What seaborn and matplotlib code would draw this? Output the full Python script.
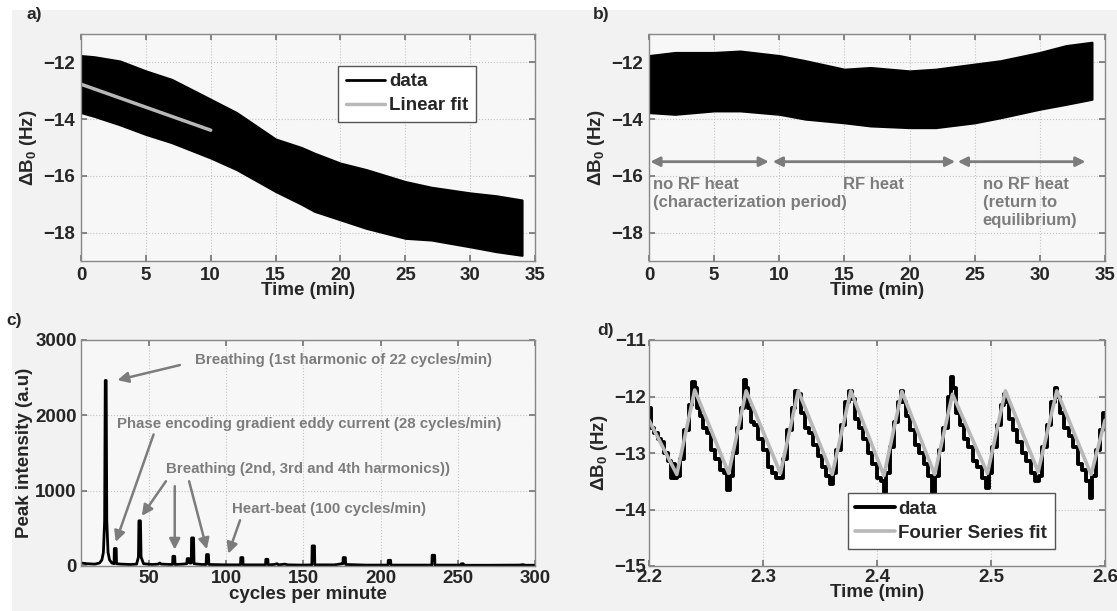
import numpy as np
import pandas as pd
import seaborn as sns
import matplotlib.pyplot as plt
from matplotlib.lines import Line2D
from matplotlib.patches import Rectangle

# ---- panel a: envelope of the B0 drift trace (time in min, Hz)
drift_t = [0, 1, 3, 5, 7, 8.5, 10, 12, 15, 17, 18, 20, 22, 25, 27, 30, 32, 34]
drift_hi = [-11.76, -11.8, -11.95, -12.3, -12.6, -12.95, -13.3, -13.77, -14.7,
            -15.0, -15.2, -15.55, -15.78, -16.2, -16.4, -16.6, -16.7, -16.85]
drift_lo = [-13.77, -13.9, -14.2, -14.54, -14.83, -15.1, -15.37, -15.78, -16.55,
            -17.0, -17.25, -17.55, -17.85, -18.2, -18.26, -18.5, -18.67, -18.8]
fit_t = [0, 10]
fit_v = [-12.77, -14.39]

# ---- panel b: envelope of the trace with RF heating
heat_t = [0, 2, 5, 7, 10, 12, 15, 17, 20, 22, 25, 27, 30, 32, 34]
heat_hi = [-11.76, -11.65, -11.65, -11.6, -11.76, -11.94, -12.24, -12.18, -12.3,
           -12.24, -12.06, -11.94, -11.65, -11.41, -11.29]
heat_lo = [-13.77, -13.83, -13.71, -13.71, -13.83, -14.0, -14.13, -14.24, -14.3,
           -14.3, -14.13, -13.95, -13.65, -13.48, -13.3]
periods = [(0.1, 9.2, "no RF heat\n(characterization period)", 0.33),
           (9.5, 23.5, "RF heat", 14.9),
           (23.7, 33.5, "no RF heat\n(return to\nequilibrium)", 25.6)]

# ---- panel c: spectrum points (cycles per minute, a.u.)
spectrum = [(6, 40), (10, 30), (15, 25), (18, 40), (19.5, 80), (20.5, 180), (21.3, 600),
            (21.7, 2463), (22.3, 2463), (22.7, 600), (23.5, 180), (24.5, 80), (26, 40),
            (27.4, 30), (27.6, 232), (28.8, 232), (29.0, 30), (32, 25), (38, 20), (42, 25),
            (43.2, 120), (43.5, 600), (44.5, 600), (44.9, 120), (46.5, 30), (52, 20),
            (56, 25), (57, 40), (58, 25), (64, 20), (65.3, 20), (65.5, 129), (66.7, 129),
            (66.9, 20), (72, 25), (74.5, 30), (74.8, 98), (76, 98), (76.3, 40), (77.4, 40),
            (77.6, 373), (78.9, 373), (79.2, 30), (84, 20), (87, 20), (87.3, 152),
            (88.5, 152), (88.8, 20), (100, 15), (109.3, 15), (109.5, 112), (110.8, 112),
            (111, 15), (120, 15), (125.5, 15), (125.7, 89), (127, 89), (127.2, 15),
            (131, 20), (133, 30), (134, 15), (138, 25), (140, 15), (150, 12), (155.5, 15),
            (155.7, 267), (157.2, 267), (157.4, 15), (170, 15), (175, 30), (175.6, 30),
            (175.8, 112), (177.2, 112), (177.4, 20), (190, 12), (204.8, 12), (205, 76),
            (206.5, 76), (206.7, 12), (220, 12), (233.2, 12), (233.4, 143), (235, 143),
            (235.2, 12), (252, 12), (252.3, 30), (253.5, 30), (253.8, 10), (270, 10),
            (290, 12), (292, 18), (294, 10), (300, 10)]
notes_c = [("Breathing (1st harmonic of 22 cycles/min)", 80, 2734,
            [((70, 2667), (29.6, 2468))]),
           ("Phase encoding gradient eddy current (28 cycles/min)", 29, 1879,
            [((53, 1746), (28.5, 319))]),
           ("Breathing (2nd, 3rd and 4th harmonics))", 61, 1294,
            [((61, 1125), (45.4, 665)), ((66.7, 1059), (66.7, 217)),
             ((76, 1125), (87.5, 222))]),
           ("Heart-beat (100 cycles/min)", 104, 753,
            [((109, 607), (101.4, 164))])]

# ---- panel d: zoom on a few breathing cycles
fourier_t = [2.2, 2.2244, 2.2401, 2.2699, 2.2852, 2.3153, 2.3309, 2.3607, 2.377,
             2.4061, 2.4218, 2.4506, 2.4662, 2.4969, 2.5126, 2.5414, 2.5577,
             2.5878, 2.6]
fourier_v = [-12.42, -13.38, -11.885, -13.36, -11.9, -13.36, -11.9, -13.38, -11.9,
             -13.4, -11.91, -13.38, -11.96, -13.36, -11.9, -13.33, -11.9,
             -13.38, -12.42]
zoom_t = [2.200, 2.203, 2.206, 2.209, 2.212, 2.215, 2.218, 2.220, 2.222, 2.224,
          2.226, 2.229, 2.233, 2.237, 2.239, 2.241, 2.243, 2.246, 2.249, 2.252,
          2.256, 2.260, 2.264, 2.267, 2.270, 2.272, 2.275, 2.279, 2.282, 2.284,
          2.286, 2.288, 2.291, 2.294, 2.298, 2.302, 2.306, 2.310, 2.313, 2.316,
          2.319, 2.323, 2.327, 2.330, 2.332, 2.335, 2.338, 2.342, 2.346, 2.350,
          2.354, 2.357, 2.360, 2.362, 2.366, 2.370, 2.374, 2.377, 2.379, 2.382,
          2.386, 2.390, 2.394, 2.398, 2.402, 2.405, 2.407, 2.409, 2.413, 2.417,
          2.420, 2.422, 2.424, 2.427, 2.431, 2.435, 2.439, 2.443, 2.447, 2.450,
          2.452, 2.456, 2.460, 2.464, 2.466, 2.468, 2.471, 2.474, 2.478, 2.482,
          2.486, 2.490, 2.494, 2.497, 2.499, 2.503, 2.507, 2.510, 2.512, 2.514,
          2.517, 2.521, 2.525, 2.529, 2.533, 2.537, 2.541, 2.543, 2.547, 2.551,
          2.555, 2.557, 2.559, 2.562, 2.566, 2.570, 2.574, 2.578, 2.582, 2.585,
          2.588, 2.590, 2.594, 2.597, 2.600]
zoom_v = [-12.20, -12.55, -12.65, -12.75, -12.80, -13.00, -13.15, -13.45, -13.20, -13.45,
          -13.40, -13.10, -12.60, -12.15, -11.75, -11.85, -12.20, -12.35, -12.55, -12.65,
          -12.95, -13.10, -13.30, -13.35, -13.65, -13.40, -13.00, -12.55, -12.20, -11.70,
          -11.85, -12.20, -12.45, -12.50, -12.75, -12.95, -13.25, -13.35, -13.45, -13.45,
          -13.10, -12.60, -12.20, -11.90, -11.95, -12.30, -12.55, -12.65, -12.85, -13.05,
          -13.25, -13.40, -13.55, -13.35, -12.95, -12.50, -12.10, -11.90, -12.05, -12.40,
          -12.55, -12.75, -13.00, -13.20, -13.45, -13.50, -13.75, -13.35, -12.90, -12.45,
          -12.10, -11.90, -12.10, -12.35, -12.60, -12.85, -13.00, -13.20, -13.40, -13.70,
          -13.40, -12.95, -12.55, -12.00, -11.65, -11.85, -12.30, -12.50, -12.75, -12.90,
          -13.15, -13.25, -13.45, -13.62, -13.35, -12.90, -12.50, -12.15, -11.95, -12.10,
          -12.40, -12.60, -12.80, -13.00, -13.15, -13.35, -13.50, -13.40, -12.90, -12.50,
          -12.10, -11.85, -12.00, -12.30, -12.55, -12.70, -12.90, -13.20, -13.30, -13.50,
          -13.80, -13.40, -12.95, -12.60, -12.30]

sns.set_theme(style="ticks")
plt.rcParams["font.family"] = ["Liberation Sans", "DejaVu Sans"]
plt.rcParams["font.weight"] = "bold"
plt.rcParams["axes.labelweight"] = "bold"
plt.rcParams["mathtext.fontset"] = "custom"
plt.rcParams["mathtext.bf"] = "Liberation Sans:bold"
plt.rcParams["mathtext.rm"] = "Liberation Sans:bold"
plt.rcParams["mathtext.default"] = "bf"

GRAY = "#7c7c7c"
FIT = "#b8b8b8"
W, H = 1117, 611

fig = plt.figure(figsize=(W / 100, H / 100), dpi=100, facecolor="white")
fig.patches.append(Rectangle((12 / W, 0), 1, 1 - 10 / H, transform=fig.transFigure,
                             facecolor="#f2f2f2", edgecolor="none", zorder=-10))


def box(x0, x1, y0, y1):
    return [x0 / W, 1 - y1 / H, (x1 - x0) / W, (y1 - y0) / H]


ax_a = fig.add_axes(box(81, 535, 34, 261))
ax_b = fig.add_axes(box(649, 1105, 34, 261))
ax_c = fig.add_axes(box(81, 535, 340, 566))
ax_d = fig.add_axes(box(649, 1105, 340, 566))


def style(ax, size=13.5):
    ax.set_facecolor("#f7f7f7")
    ax.grid(True, linestyle=":", color="#c4c4c4", linewidth=0.8)
    ax.tick_params(direction="in", top=True, right=True, length=4, color="#777",
                   labelsize=size, pad=4)
    for s in ax.spines.values():
        s.set_color("#888")
        s.set_linewidth(1)
    for lab in ax.get_xticklabels() + ax.get_yticklabels():
        lab.set_fontweight("bold")


ylab = "ΔB$_0$ (Hz)"
leg_kw = dict(borderaxespad=0, fancybox=False, edgecolor="#555", framealpha=1,
              handlelength=2.1, handletextpad=0.2, prop={"weight": "bold", "size": 13.5},
              borderpad=0.4, labelspacing=0.35)

# a) drift with linear fit
ax_a.fill_between(drift_t, drift_lo, drift_hi, color="black", linewidth=1.5)
sns.lineplot(x=fit_t, y=fit_v, ax=ax_a, color=FIT, linewidth=2.5)
ax_a.set_xlim(0, 35)
ax_a.set_ylim(-19, -11)
ax_a.set_xticks(range(0, 36, 5))
ax_a.set_yticks([-18, -16, -14, -12])
ax_a.set_xlabel("Time (min)", fontsize=13.5, labelpad=-1)
ax_a.set_ylabel(ylab, fontsize=13.5, labelpad=3)
handles = [Line2D([], [], color="black", lw=2), Line2D([], [], color=FIT, lw=2.5)]
leg = ax_a.legend(handles, ["data", "Linear fit"], loc="upper right",
                  bbox_to_anchor=(0.869, 0.86), **leg_kw)
leg.get_frame().set_linewidth(1)
style(ax_a)

# b) RF heating experiment
ax_b.fill_between(heat_t, heat_lo, heat_hi, color="black", linewidth=1.5)
for x0, x1, label, tx in periods:
    ax_b.annotate("", xy=(x1, -15.5), xytext=(x0, -15.5),
                  arrowprops=dict(arrowstyle="<|-|>", color=GRAY, lw=2,
                                  mutation_scale=14, shrinkA=0, shrinkB=0))
    ax_b.text(tx, -16.05, label, color=GRAY, fontsize=12, fontweight="bold",
              va="top", ha="left", linespacing=1.25)
ax_b.set_xlim(0, 35)
ax_b.set_ylim(-19, -11)
ax_b.set_xticks(range(0, 36, 5))
ax_b.set_yticks([-18, -16, -14, -12])
ax_b.set_xlabel("Time (min)", fontsize=13.5, labelpad=-1)
ax_b.set_ylabel(ylab, fontsize=13.5, labelpad=3)
style(ax_b)

# c) spectrum
spec = pd.DataFrame(spectrum, columns=["freq", "amp"])
sns.lineplot(data=spec, x="freq", y="amp", ax=ax_c, color="black", linewidth=2,
             sort=False)
for label, tx, ty, arrows in notes_c:
    ax_c.text(tx, ty, label, color=GRAY, fontsize=10.8, fontweight="bold", va="center")
    for start, end in arrows:
        ax_c.annotate("", xy=end, xytext=start,
                      arrowprops=dict(arrowstyle="-|>", color=GRAY, lw=1.8,
                                      mutation_scale=16, shrinkA=0, shrinkB=0))
ax_c.set_xlim(6, 300)
ax_c.set_ylim(0, 3000)
ax_c.set_xticks(range(50, 301, 50))
ax_c.set_yticks([0, 1000, 2000, 3000])
ax_c.set_xlabel("cycles per minute", fontsize=13.5, labelpad=-1)
ax_c.set_ylabel("Peak intensity (a.u)", fontsize=13.5, labelpad=2)
style(ax_c, 13.5)
ax_c.tick_params(pad=3)

# d) zoom with Fourier series fit
sns.lineplot(x=zoom_t, y=zoom_v, ax=ax_d, color="black", linewidth=2.8,
             drawstyle="steps-mid", label="data")
sns.lineplot(x=fourier_t, y=fourier_v, ax=ax_d, color=FIT, linewidth=2.6,
             label="Fourier Series fit")
ax_d.set_xlim(2.2, 2.6)
ax_d.set_ylim(-15, -11)
ax_d.set_xticks([2.2, 2.3, 2.4, 2.5, 2.6])
ax_d.set_yticks([-15, -14, -13, -12, -11])
ax_d.set_xlabel("Time (min)", fontsize=13.5, labelpad=-1)
ax_d.set_ylabel(ylab, fontsize=13.5, labelpad=3)
leg = ax_d.legend(loc="lower right", bbox_to_anchor=(0.89, 0.075), **leg_kw)
leg.get_frame().set_linewidth(1)
style(ax_d, 13.5)
ax_d.tick_params(pad=2)

for txt, x, y in [("a)", 34, 15), ("b)", 601, 15), ("c)", 14, 321), ("d)", 605, 330)]:
    fig.text(x / W, 1 - y / H, txt, fontsize=12.5, fontweight="bold", ha="center",
             va="center")

fig.savefig("out.png", dpi=100, facecolor=fig.get_facecolor())
